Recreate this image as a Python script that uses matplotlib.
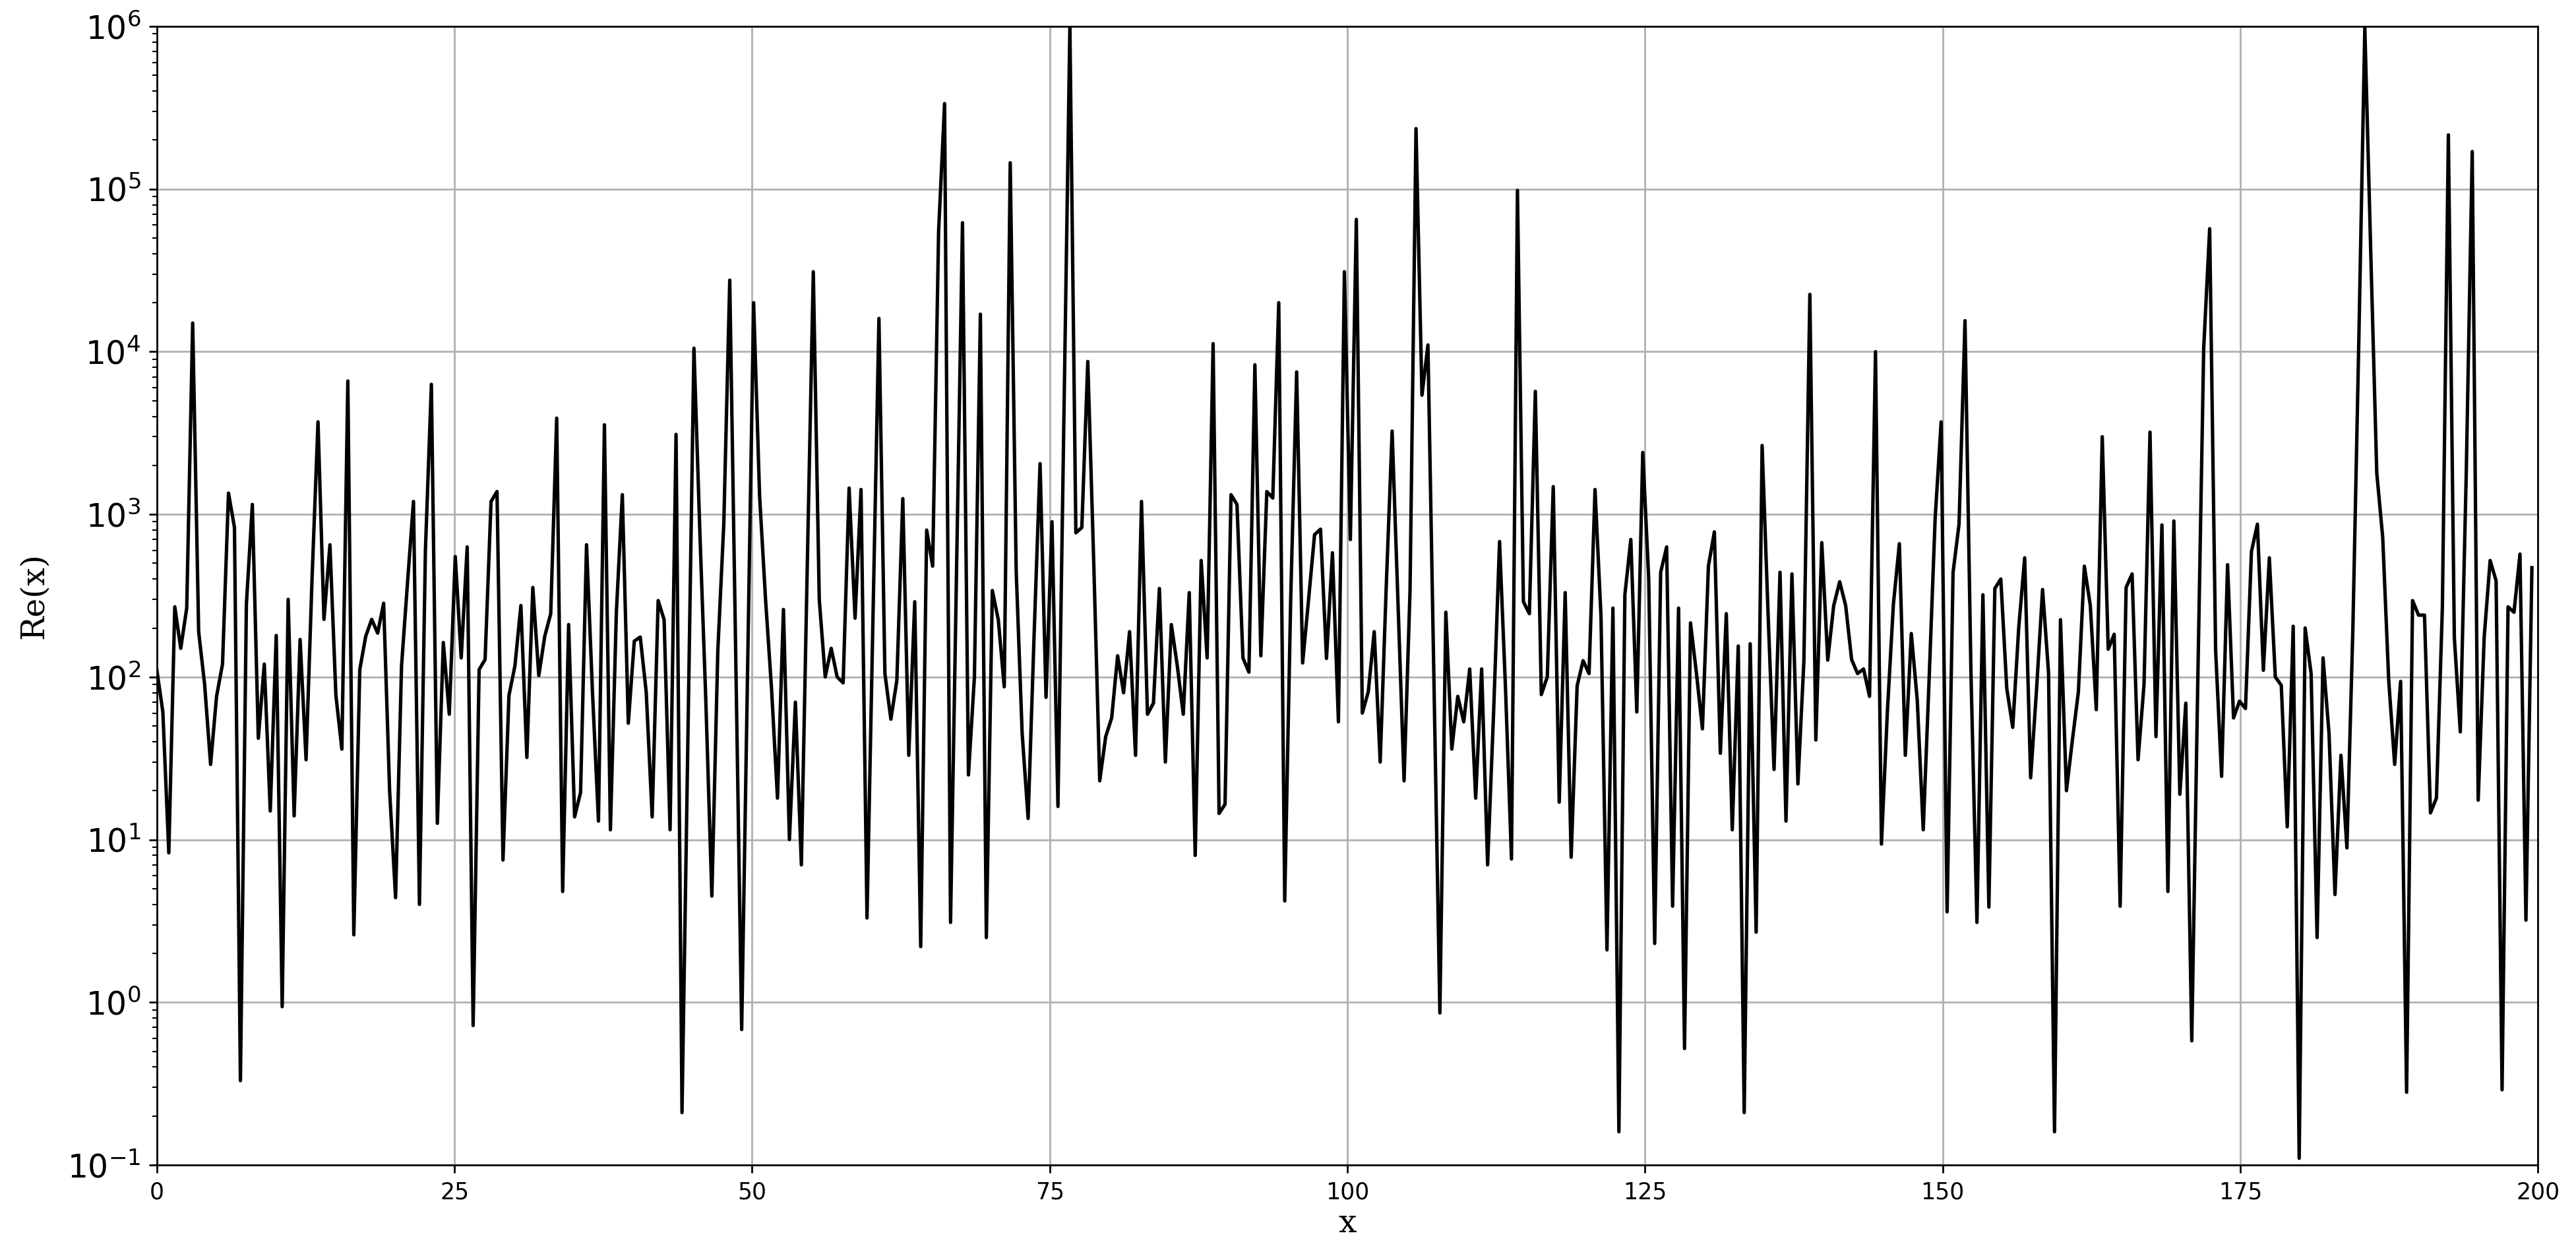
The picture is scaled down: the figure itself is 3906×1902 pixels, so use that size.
import numpy as np
import matplotlib
matplotlib.use("Agg")
import matplotlib.pyplot as plt

plt.rcParams['mathtext.fontset'] = 'dejavuserif'

# Re(x) values, one every ~0.5 on x
re_0_50 = [110, 61, 8.3, 270, 150, 265, 15000, 190, 90, 29,
           76, 120, 1350, 830, 0.33, 280, 1150, 42, 120, 15,
           180, 0.94, 300, 14, 170, 31, 400, 3700, 226, 650,
           77, 36, 6600, 2.6, 111, 178, 226, 186, 284, 20,
           4.4, 117, 380, 1200, 4.0, 600, 6300, 12.6, 163, 59,
           550, 131, 630, 0.72, 111, 128, 1200, 1380, 7.5, 77,
           117, 275, 32, 355, 102, 178, 245, 3900, 4.8, 210,
           13.8, 19.5, 650, 80, 13, 3550, 11.5, 250, 1320, 52,
           166, 176, 81, 13.8, 295, 225, 11.5, 3100, 0.21, 45,
           10500, 760, 70, 4.5, 145, 870, 27500, 137, 0.68, 117]
re_50_100 = [20000, 1300, 300, 85, 18, 260, 10, 70, 7, 500,
             31000, 300, 100, 150, 100, 92, 1450, 230, 1420, 3.3,
             230, 16000, 105, 55, 95, 1250, 33, 290, 2.2, 800,
             480, 55000, 335000, 3.1, 440, 62000, 25, 100, 17000, 2.5,
             340, 225, 87, 145000, 450, 45, 13.5, 180, 2050, 75,
             900, 16, 4000, 1.0e6, 770, 830, 8700, 500, 23, 43,
             56, 135, 80, 190, 33, 1200, 59, 69, 350, 30,
             210, 117, 59, 330, 8, 520, 131, 11200, 14.5, 16.5,
             1320, 1150, 131, 107, 8300, 135, 1380, 1260, 20000, 4.2,
             300, 7500, 122, 300, 750, 810, 130, 580, 53, 31000]
re_100_150 = [700, 65000, 60, 81, 190, 30, 350, 3250, 275, 23,
              340, 235000, 5400, 11000, 100, 0.86, 250, 36, 76, 53,
              112, 18, 112, 7, 60, 680, 85, 7.6, 98000, 290,
              245, 5700, 78, 100, 1480, 17, 330, 7.8, 88, 126,
              105, 1420, 235, 2.1, 265, 0.16, 320, 700, 61, 2400,
              400, 2.3, 440, 630, 3.9, 265, 0.52, 215, 105, 48,
              480, 780, 34, 245, 11.5, 155, 0.21, 160, 2.7, 2650,
              245, 27, 440, 13, 430, 22, 125, 22500, 41, 670,
              127, 275, 385, 275, 128, 105, 112, 76, 10000, 9.4,
              62, 280, 660, 33, 185, 72, 11.5, 100, 950, 3700]
re_150_200 = [3.6, 440, 870, 15500, 105, 3.1, 320, 3.85, 350, 400,
              85, 49, 200, 540, 24, 85, 345, 106, 0.16, 225,
              20, 41, 81, 480, 275, 63, 3000, 148, 183, 3.9,
              355, 430, 31, 90, 3200, 43, 860, 4.8, 910, 19,
              69, 0.58, 90, 10500, 57000, 145, 24.5, 490, 56, 71,
              64, 590, 870, 110, 540, 100, 89, 12, 205, 0.11,
              200, 105, 2.5, 131, 45, 4.6, 33, 8.9, 200, 12000,
              980000, 40000, 1800, 720, 96, 29, 94, 0.28, 295, 240,
              240, 14.6, 18, 270, 215000, 175, 46, 1800, 170000, 17.5,
              175, 520, 390, 0.29, 270, 250, 570, 3.2, 470]

re_x = np.array(re_0_50 + re_50_100 + re_100_150 + re_150_200, dtype=float)
x = np.linspace(0, 200, 400)[:len(re_x)]

fig = plt.figure(figsize=(15.624, 7.608), dpi=250)
ax = fig.add_subplot(111)
fig.subplots_adjust(left=0.0609, right=0.9852, top=0.979, bottom=0.071)

ax.plot(x, re_x, color='black', linewidth=1.5)
ax.set_yscale('log')
ax.set_xlim(0, 200)
ax.set_ylim(1e-1, 1e6)
ax.grid(True)

ax.set_xlabel('x', family='serif', fontsize=14, labelpad=2)
ax.set_ylabel('Re(x)', family='serif', fontsize=14, labelpad=8)
ax.tick_params(axis='x', labelsize=10)
ax.tick_params(axis='y', labelsize=14)

fig.savefig('out.png', dpi=250)
